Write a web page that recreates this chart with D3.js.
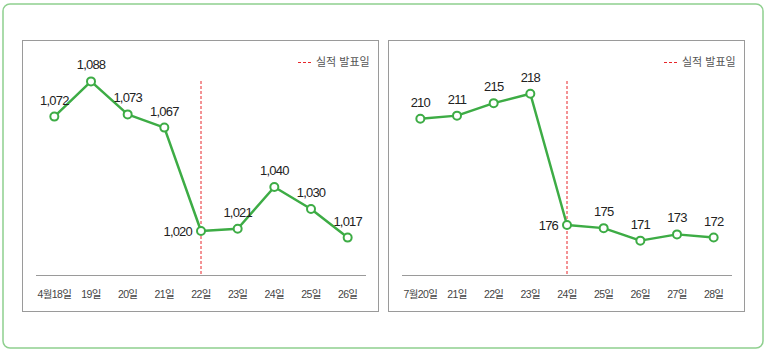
<!DOCTYPE html>
<html>
<head>
<meta charset="utf-8">
<script src="https://cdn.jsdelivr.net/npm/d3@7"></script>
<style>
  html, body { margin: 0; padding: 0; background: #fff; }
  svg text { font-family: "Liberation Sans", Arial, "Noto Sans CJK KR", sans-serif; }
</style>
</head>
<body>
<div id="chart"></div>
<script>
// ---- data ----
const daysA = ['4월18일', '19일', '20일', '21일', '22일', '23일', '24일', '25일', '26일'];
const valuesA = [1072, 1088, 1073, 1067, 1020, 1021, 1040, 1030, 1017];
const eventA = '22일';

const daysB = ['7월20일', '21일', '22일', '23일', '24일', '25일', '26일', '27일', '28일'];
const valuesB = [210, 211, 215, 218, 176, 175, 171, 173, 172];
const eventB = '24일';

const legendLabel = '실적 발표일';

const W = 768, H = 353;
const green = '#3dac45';

const svg = d3.select('#chart').append('svg')
  .attr('width', W).attr('height', H);

// outer rounded frame
svg.append('rect')
  .attr('x', 3).attr('y', 4).attr('width', 760).attr('height', 344)
  .attr('rx', 7)
  .attr('fill', '#fff').attr('stroke', '#8fd08f').attr('stroke-width', 1.5);

function drawPanel(opts) {
  const { left, right, days, values, event, domain, yRange } = opts;
  const top = 40, bottom = 311, axisY = 275;

  const g = svg.append('g');

  g.append('rect')
    .attr('x', left + 0.5).attr('y', top + 0.5)
    .attr('width', right - left).attr('height', bottom - top)
    .attr('fill', '#fff').attr('stroke', '#9a9a9a').attr('stroke-width', 1);

  const x = d3.scaleBand().domain(days)
    .range([left + 14, right - 12]);
  const cx = d => x(d) + x.bandwidth() / 2;

  const y = d3.scaleLinear().domain(domain).range(yRange);

  // baseline axis
  g.append('line')
    .attr('x1', x.range()[0]).attr('x2', x.range()[1])
    .attr('y1', axisY + 0.5).attr('y2', axisY + 0.5)
    .attr('stroke', '#9a9a9a').attr('stroke-width', 1);

  // day labels
  g.selectAll('.tick-label').data(days).join('text')
    .attr('x', d => cx(d))
    .attr('y', 297.5)
    .attr('text-anchor', 'middle')
    .attr('font-size', '10.5px')
    .attr('letter-spacing', '-0.6px')
    .attr('fill', '#444')
    .text(d => d);

  // announcement day marker
  g.append('line')
    .attr('x1', cx(event)).attr('x2', cx(event))
    .attr('y1', 81).attr('y2', axisY)
    .attr('stroke', '#e8262a').attr('stroke-width', 1)
    .attr('stroke-dasharray', '3,2');

  // legend
  const lx = right - 80;
  g.append('line')
    .attr('x1', lx).attr('x2', lx + 14)
    .attr('y1', 62.5).attr('y2', 62.5)
    .attr('stroke', '#e8262a').attr('stroke-width', 1)
    .attr('stroke-dasharray', '3,2');
  g.append('text')
    .attr('x', lx + 18).attr('y', 66)
    .attr('font-size', '11px')
    .attr('fill', '#555')
    .text(legendLabel);

  const pts = days.map((d, i) => ({ day: d, v: values[i] }));

  g.append('path')
    .datum(pts)
    .attr('d', d3.line().x(p => cx(p.day)).y(p => y(p.v)))
    .attr('fill', 'none')
    .attr('stroke', green)
    .attr('stroke-width', 2.5)
    .attr('stroke-linejoin', 'round');

  g.selectAll('circle').data(pts).join('circle')
    .attr('cx', p => cx(p.day))
    .attr('cy', p => y(p.v))
    .attr('r', 4)
    .attr('fill', '#fff')
    .attr('stroke', green)
    .attr('stroke-width', 2);

  // value labels — the event-day one sits to the left of its point
  g.selectAll('.val').data(pts).join('text')
    .attr('x', p => p.day === event ? cx(p.day) - 9 : cx(p.day))
    .attr('y', p => p.day === event ? y(p.v) + 5 : y(p.v) - 12)
    .attr('text-anchor', p => p.day === event ? 'end' : 'middle')
    .attr('font-size', '13px')
    .attr('letter-spacing', '-0.8px')
    .attr('fill', '#222')
    .text(p => d3.format(',')(p.v));
}

drawPanel({
  left: 22, right: 378,
  days: daysA, values: valuesA, event: eventA,
  domain: [1000, 1100], yRange: [275, 55]
});

drawPanel({
  left: 388, right: 744,
  days: daysB, values: valuesB, event: eventB,
  domain: [160, 220], yRange: [275, 87.5]
});
</script>
</body>
</html>
